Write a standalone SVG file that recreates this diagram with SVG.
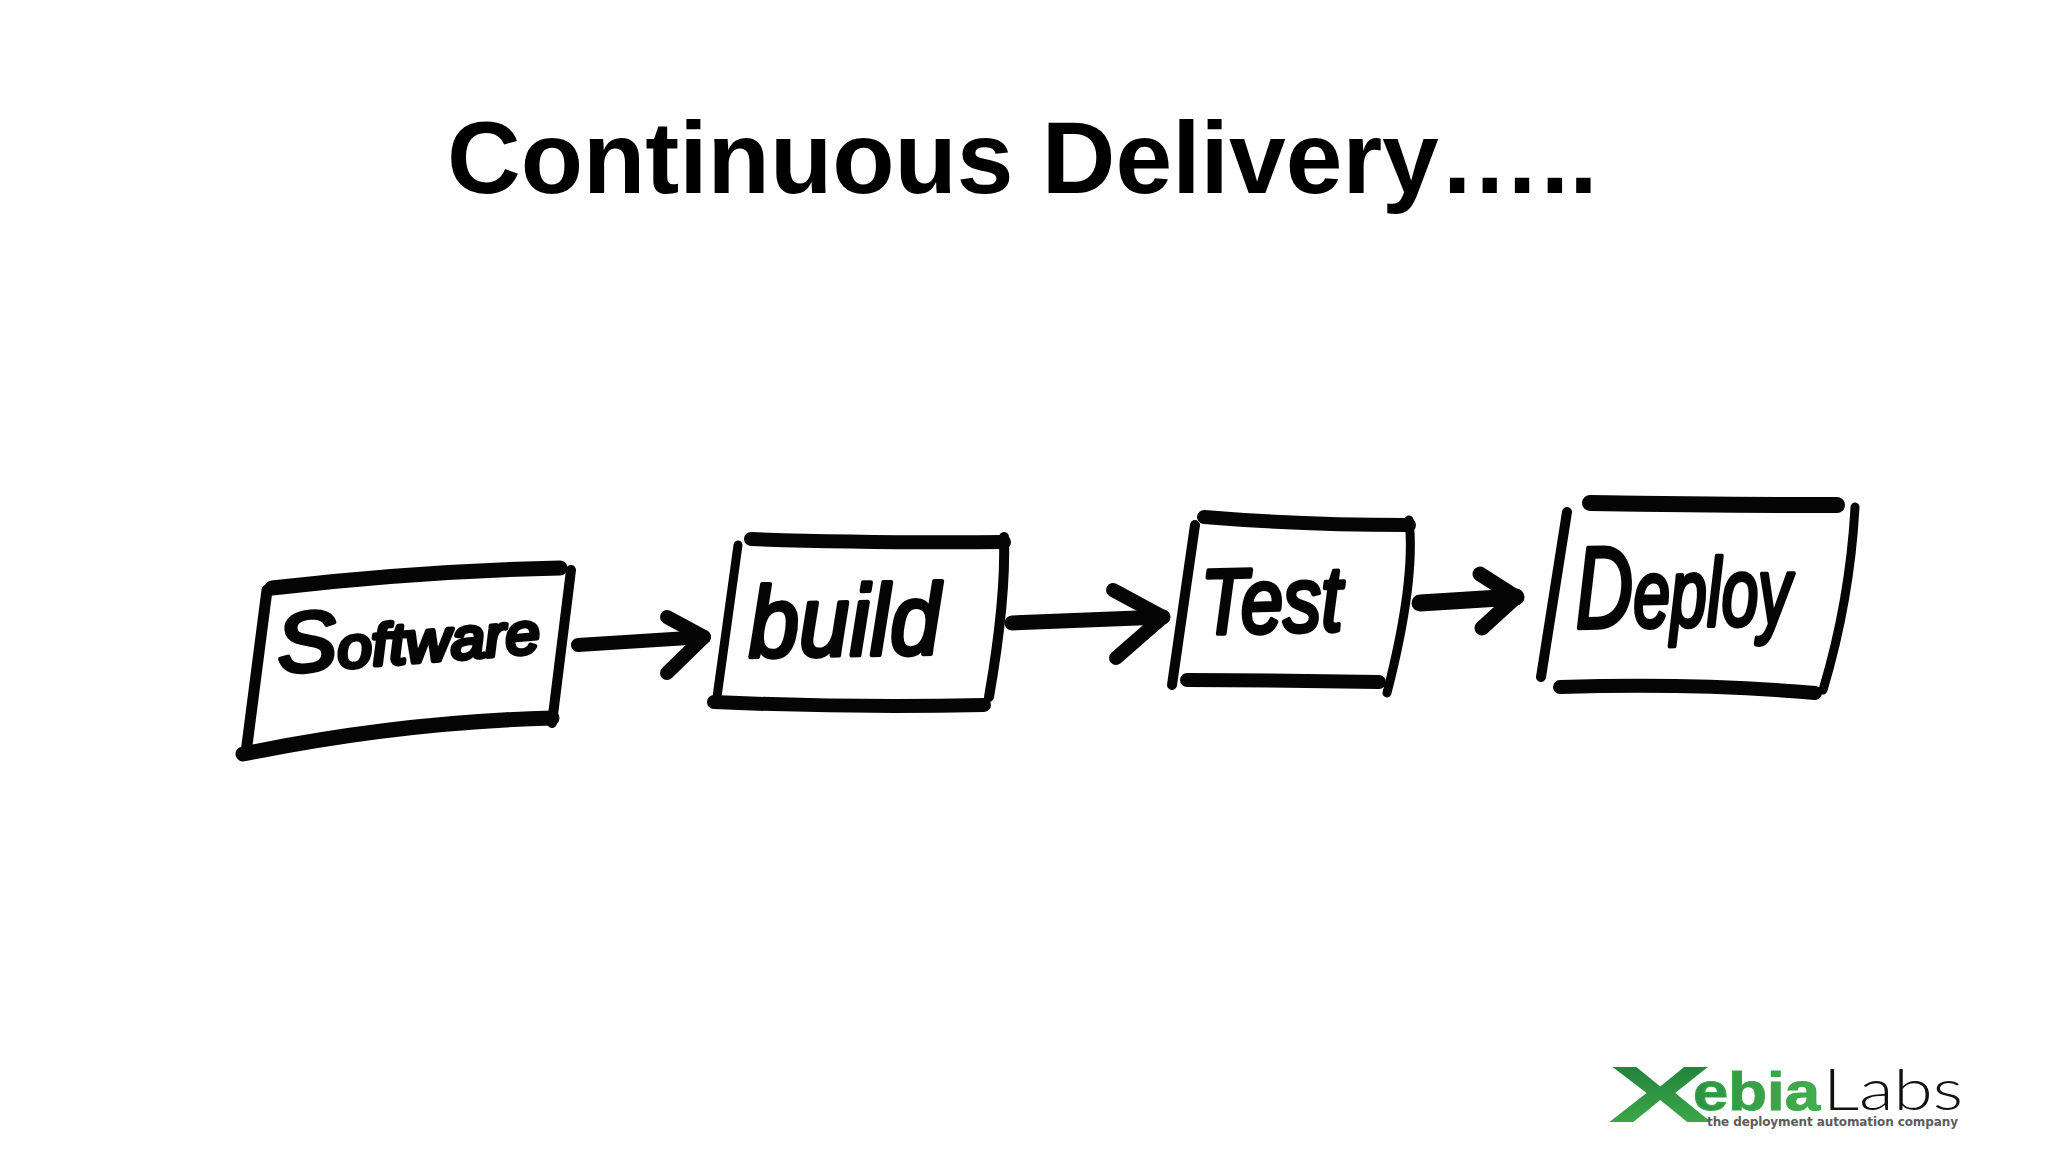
<svg xmlns="http://www.w3.org/2000/svg" width="2048" height="1152" viewBox="0 0 2048 1152">
<defs>
<linearGradient id="xg" x1="0" y1="0" x2="0" y2="1"><stop offset="0" stop-color="#1c7a3a"/><stop offset="1" stop-color="#43b04b"/></linearGradient>
<linearGradient id="eg" x1="0" y1="0" x2="1" y2="0"><stop offset="0" stop-color="#2c9244"/><stop offset="1" stop-color="#45b04d"/></linearGradient>
</defs>
<style>
.title{font-family:"Liberation Sans",Arial,sans-serif;font-weight:700;font-size:102px;fill:#000}
.s{fill:none;stroke:#050505;stroke-linecap:round;stroke-linejoin:round}
.w9{stroke-width:9}.w10{stroke-width:10}.w11{stroke-width:11}.w14{stroke-width:14}.w15{stroke-width:15}.w16{stroke-width:16}.w17{stroke-width:17}
.hand{font-family:"Liberation Sans",Arial,sans-serif;font-style:italic;fill:#050505;stroke:#050505;stroke-width:4.5;stroke-linejoin:round}
</style>
<rect width="2048" height="1152" fill="#fff"/>
<text class="title" x="447" y="193">Continuous Delivery…..</text>

<g id="node-software">
<path class="s w15" d="M272 588Q420 571 560 568"/>
<path class="s w11" d="M267 590L246 753"/>
<path class="s w15" d="M243 754Q400 722 552 718"/>
<path class="s w10" d="M571 570L552 723"/>
<text class="hand" transform="translate(279 673) rotate(-4.5)" font-size="58" textLength="263" lengthAdjust="spacingAndGlyphs"><tspan font-size="84">S</tspan>oftware</text>
</g>

<g id="node-build">
<path class="s w14" d="M751 539Q860 543 1004 542"/>
<path class="s w9" d="M738 545L717 697"/>
<path class="s w14" d="M714 702Q850 708 984 705"/>
<path class="s w10" d="M1004 537Q1006 600 989 697"/>
<text class="hand" transform="translate(749 657) rotate(-1)" font-size="100" textLength="192" lengthAdjust="spacingAndGlyphs">build</text>
</g>

<g id="node-test">
<path class="s w14" d="M1204 517Q1300 525 1409 525"/>
<path class="s w10" d="M1195 525L1172 685"/>
<path class="s w14" d="M1187 680Q1280 680 1379 682"/>
<path class="s w9" d="M1409 520Q1416 580 1387 693"/>
<text class="hand" transform="translate(1202 634) rotate(-1.5)" font-size="92" textLength="141" lengthAdjust="spacingAndGlyphs">Test</text>
</g>

<g id="node-deploy">
<path class="s w16" d="M1590 503Q1720 505 1837 505"/>
<path class="s w10" d="M1567 512L1541 677"/>
<path class="s w14" d="M1560 687Q1700 683 1815 693"/>
<path class="s w9" d="M1855 507Q1850 600 1823 690"/>
<text class="hand" transform="translate(1576 628) rotate(-1)" font-size="96" textLength="216" lengthAdjust="spacingAndGlyphs"><tspan font-size="116">D</tspan>eploy</text>
</g>

<g id="connectors">
<path class="s w14" d="M578 645L704 637"/>
<path class="s w14" d="M667 617L704 637L667 673"/>
<path class="s w15" d="M1012 623L1163 617"/>
<path class="s w14" d="M1113 590L1163 617L1116 658"/>
<path class="s w17" d="M1420 603L1516 597"/>
<path class="s w15" d="M1480 574L1516 597L1482 628"/>
</g>

<g id="logo">
<text x="1693" y="1110" font-family="Liberation Sans,Arial,sans-serif" font-weight="700" font-size="54" fill="url(#eg)" stroke="#3aa648" stroke-width="1" textLength="127" lengthAdjust="spacingAndGlyphs">ebia</text>
<text transform="translate(1608 1122) scale(1.98 1)" font-family="Liberation Sans,Arial,sans-serif" font-weight="700" font-size="79" fill="url(#xg)">X</text>
<text x="1823" y="1110" font-family="Lato,sans-serif" font-weight="300" font-size="58" fill="#111" textLength="140" lengthAdjust="spacingAndGlyphs">Labs</text>
<text x="1707" y="1126" font-family="DejaVu Sans,sans-serif" font-weight="700" font-size="12" fill="#5c5c5c" textLength="251" lengthAdjust="spacing">the deployment automation company</text>
</g>
</svg>
